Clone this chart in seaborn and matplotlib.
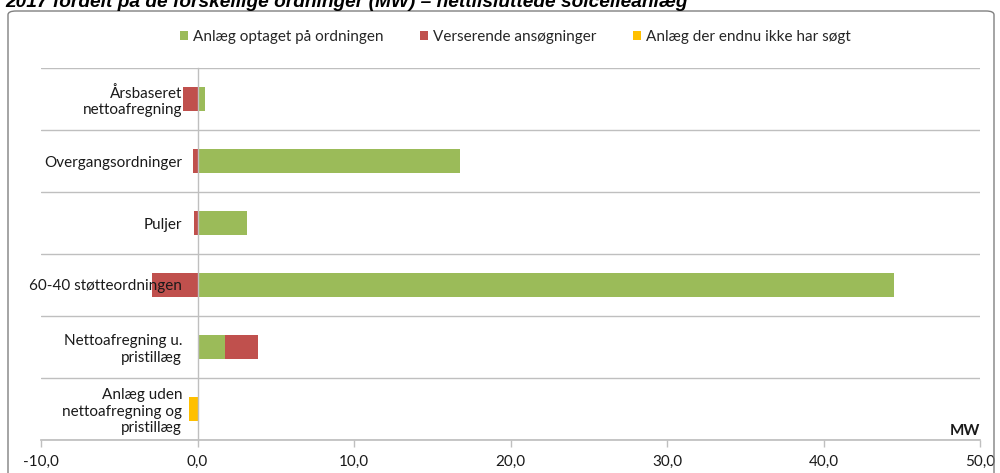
import matplotlib
matplotlib.use("Agg")
import matplotlib.pyplot as plt
import seaborn as sns
import numpy as np
import pandas as pd
from matplotlib.patches import FancyBboxPatch, Patch
from matplotlib.ticker import FuncFormatter

categories = ["Årsbaseret\nnettoafregning", "Overgangsordninger", "Puljer",
              "60-40 støtteordningen", "Nettoafregning u.\npristillæg",
              "Anlæg uden\nnettoafregning og\npristillæg"]
optaget = [0.45, 16.8, 3.15, 44.5, 1.75, 0.0]
verserende = [-0.9, -0.3, -0.2, -2.9, 2.1, 0.0]
ikke_soegt = [0.0, 0.0, 0.0, 0.0, 0.0, -0.55]
series_names = ["Anlæg optaget på ordningen", "Verserende ansøgninger",
                "Anlæg der endnu ikke har søgt"]
colors = ["#9BBB59", "#C0504D", "#FFC000"]
xticks = [-10, 0, 10, 20, 30, 40, 50]

sns.set_theme(style="white")
plt.rcParams['font.family'] = ['Lato', 'DejaVu Sans']

fig = plt.figure(figsize=(10, 4.73), dpi=100)
ax = fig.add_axes([0.041, 0.070, 0.939, 0.786])

opt = np.array(optaget)
ver = np.array(verserende)
# red stacked after green when positive
ver_end = np.where(ver > 0, opt + ver, ver)
df = pd.DataFrame({"cat": categories, "opt": opt, "ver": ver_end, "ikke": ikke_soegt})

sns.barplot(data=df, x="ver", y="cat", orient="y", color=colors[1], width=0.4,
            saturation=1, ax=ax, linewidth=0)
sns.barplot(data=df, x="opt", y="cat", orient="y", color=colors[0], width=0.4,
            saturation=1, ax=ax, linewidth=0)
sns.barplot(data=df, x="ikke", y="cat", orient="y", color=colors[2], width=0.4,
            saturation=1, ax=ax, linewidth=0)

ax.set_xlim(-10, 50)
ax.set_ylim(5.5, -0.5)
ax.set_xticks(xticks)
ax.xaxis.set_major_formatter(FuncFormatter(lambda v, p: f"{v:.1f}".replace(".", ",")))
ax.set_xlabel("")
ax.set_ylabel("")
ax.set_yticks(range(len(categories)))
ax.set_yticklabels(categories, linespacing=1.4, multialignment="center")
ax.set_yticks(np.arange(-0.5, 6.0, 1.0), minor=True)
ax.yaxis.grid(True, which="minor", color="#BFBFBF", linewidth=1)
ax.xaxis.grid(False)
ax.tick_params(axis="y", which="both", length=0, pad=11, labelsize=11, labelcolor="#1a1a1a")
ax.tick_params(axis="x", which="major", length=5, direction="out", color="#BFBFBF",
               width=1, bottom=True, labelsize=11, labelcolor="#1a1a1a", pad=6)
for s in ["top", "right"]:
    ax.spines[s].set_visible(False)
ax.spines["left"].set_position(("data", 0))
ax.spines["left"].set_color("#BFBFBF")
ax.spines["left"].set_linewidth(1)
ax.spines["bottom"].set_color("#BFBFBF")
ax.set_axisbelow("line")

ax.text(1.0, 0.005, "MW", transform=ax.transAxes, ha="right", va="bottom",
        fontsize=11, fontweight="bold", color="#1a1a1a")

handles = [Patch(facecolor=c, edgecolor="none") for c in colors]
fig.legend(handles, series_names, loc="center", bbox_to_anchor=(0.515, 0.922), ncol=3,
           frameon=False, fontsize=11, handlelength=0.55, handleheight=0.55,
           handletextpad=0.3, columnspacing=2.4)

fig.patches.append(FancyBboxPatch((0.008, -0.05), 0.986, 1 - 11 / 473 + 0.05,
                                  transform=fig.transFigure,
                                  boxstyle="round,pad=0,rounding_size=0.008",
                                  facecolor="none", edgecolor="#808080", linewidth=1))

fig.text(0.005, 1 - 7 / 473, "2017 fordelt på de forskellige ordninger (MW) – nettilsluttede solcelleanlæg",
         ha="left", va="baseline", fontsize=13.8, fontweight="bold", fontstyle="italic",
         family=["Liberation Sans", "DejaVu Sans"], color="black")

fig.savefig("out.png", dpi=100)
